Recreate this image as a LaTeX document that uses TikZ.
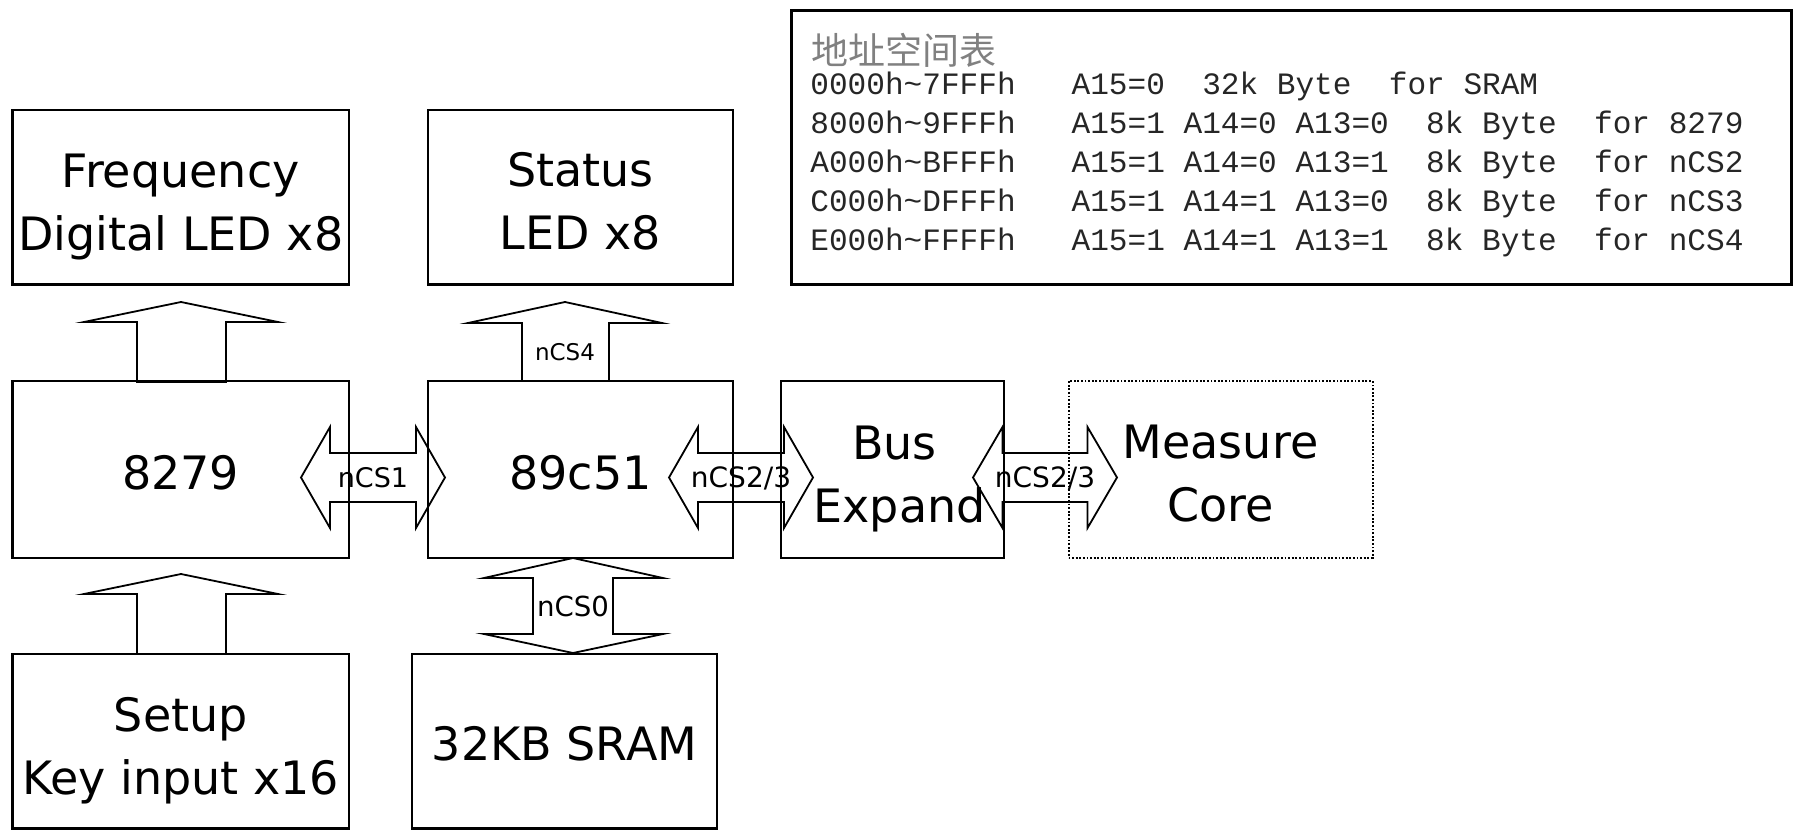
\documentclass[tikz,border=0pt]{standalone}
\usepackage{fontspec}
\setmainfont{DejaVu Sans}
\newfontfamily\cjktitle{Noto Sans CJK SC}
\newfontfamily\tabmono{Liberation Mono}
\begin{document}
\begin{tikzpicture}[x=0.5pt,y=-0.5pt,
  blk/.style={draw, line width=1.1pt, inner sep=0pt},
  dotblk/.style={draw, line width=1pt, dash pattern=on 0.9pt off 0.9pt, inner sep=0pt},
  barrow/.style={draw, line width=0.9pt, line join=miter},
  bigtxt/.style={font=\fontsize{23}{31.5}\selectfont, align=center, inner sep=0pt},
  lbl/.style={font=\fontsize{13.5}{16}\selectfont, inner sep=0pt},
  monoline/.style={font=\tabmono\fontsize{15.55}{19.5}\selectfont, anchor=base west, inner sep=0pt, text=black!85}]
\useasboundingbox (0,0) rectangle (1799,830);

% boxes
\node[blk, minimum width=168.25pt, minimum height=87.25pt] (freq)   at (180.75,197.25) {};
\node[blk, minimum width=152.5pt,  minimum height=87.25pt] (status) at (580.5,197.25) {};
\node[blk, minimum width=168.25pt, minimum height=88.3pt]  (k8279)  at (180.75,469.3) {};
\node[blk, minimum width=152.5pt,  minimum height=88.3pt]  (mcu)    at (580.5,469.3) {};
\node[blk, minimum width=111.5pt,  minimum height=88.3pt]  (bus)    at (892.5,469.3) {};
\node[dotblk, minimum width=152pt, minimum height=88.3pt]  (meas)   at (1220.5,469.3) {};
\node[blk, minimum width=168.25pt, minimum height=87.25pt] (setup)  at (180.75,741.25) {};
\node[blk, minimum width=152.5pt,  minimum height=87.25pt] (sram)   at (564.5,741.25) {};
\node[draw, line width=1.5pt, inner sep=0pt, minimum width=500pt, minimum height=137pt] (tbl) at (1291,147) {};

% box texts
\node[bigtxt] (freqt)   at (180.75,207) {Frequency\\Digital LED x8};
\node[bigtxt] (statust) at (580.5,201.75) {Status\\LED x8};
\node[bigtxt] (k8279t)  at (180.75,473) {8279};
\node[bigtxt] (mcut)    at (580.5,473) {89c51};
\node[bigtxt] (bust)    at (894.5,479) {Bus\\\hspace*{5pt}Expand};
\node[bigtxt] (meast)   at (1220.5,473.5) {Measure\\Core};
\node[bigtxt] (setupt)  at (180.75,751) {Setup\\Key input x16};
\node[bigtxt] (sramt)   at (564.5,744) {32KB SRAM};

% block arrows
\coordinate (tipF) at (181,302);
\draw[barrow] (tipF) -- ++(97,20) -- ++(-52,0) -- ++(0,60) -- ++(-89,0) -- ++(0,-60) -- ++(-53,0) -- cycle;
\coordinate (tipK) at (181,574);
\draw[barrow] (tipK) -- ++(97,20) -- ++(-52,0) -- ++(0,60) -- ++(-89,0) -- ++(0,-60) -- ++(-53,0) -- cycle;
\coordinate (tipS) at (565,302);
\draw[barrow] (tipS) -- ++(97,21) -- ++(-53,0) -- ++(0,58) -- ++(-87,0) -- ++(0,-58) -- ++(-54,0) -- cycle;
\coordinate (tipR) at (573,558);
\draw[barrow] (tipR) -- ++(90,20) -- ++(-50,0) -- ++(0,56) -- ++(50,0) -- ++(-90,19) -- ++(-89,-19) -- ++(49,0) -- ++(0,-56) -- ++(-49,0) -- cycle;
\coordinate (tip1) at (301,477.5);
\draw[barrow] (tip1) -- ++(29,-50.5) -- ++(0,26) -- ++(86,0) -- ++(0,-26) -- ++(29,50.5) -- ++(-29,50.5) -- ++(0,-26) -- ++(-86,0) -- ++(0,26) -- cycle;
\coordinate (tip2) at (669,477.5);
\draw[barrow] (tip2) -- ++(29,-50.5) -- ++(0,26) -- ++(86,0) -- ++(0,-26) -- ++(29,50.5) -- ++(-29,50.5) -- ++(0,-26) -- ++(-86,0) -- ++(0,26) -- cycle;
\coordinate (tip3) at (973,477.5);
\draw[barrow] (tip3) -- ++(29.5,-50.5) -- ++(0,26) -- ++(85,0) -- ++(0,-26) -- ++(29.5,50.5) -- ++(-29.5,50.5) -- ++(0,-26) -- ++(-85,0) -- ++(0,26) -- cycle;

% arrow labels
\node[lbl] (l1) at (373,478) {nCS1};
\node[lbl, font=\fontsize{14}{16}\selectfont] (l2) at (741,478) {nCS2/3};
\node[lbl, font=\fontsize{14}{16}\selectfont] (l3) at (1045,478) {nCS2/3};
\node[lbl, font=\fontsize{11.5}{14}\selectfont] (l4) at (565,352) {nCS4};
\node[lbl, font=\fontsize{13.8}{16}\selectfont] (l0) at (573,606) {nCS0};

% address table
\node[anchor=base west, inner sep=0pt, text=black!50, font=\cjktitle\fontsize{18.5}{20}\selectfont] (ttitle) at (811,64) {地址空间表};
\node[monoline] (r1) at (810,94.3) {0000h\textasciitilde 7FFFh\ \ \ A15=0\ \ 32k\ Byte\ \ for\ SRAM};
\node[monoline] (r2) at (810,133.3) {8000h\textasciitilde 9FFFh\ \ \ A15=1\ A14=0\ A13=0\ \ 8k\ Byte\ \ for\ 8279};
\node[monoline] (r3) at (810,172.5) {A000h\textasciitilde BFFFh\ \ \ A15=1\ A14=0\ A13=1\ \ 8k\ Byte\ \ for\ nCS2};
\node[monoline] (r4) at (810,211.5) {C000h\textasciitilde DFFFh\ \ \ A15=1\ A14=1\ A13=0\ \ 8k\ Byte\ \ for\ nCS3};
\node[monoline] (r5) at (810,250.5) {E000h\textasciitilde FFFFh\ \ \ A15=1\ A14=1\ A13=1\ \ 8k\ Byte\ \ for\ nCS4};
\end{tikzpicture}
\end{document}
